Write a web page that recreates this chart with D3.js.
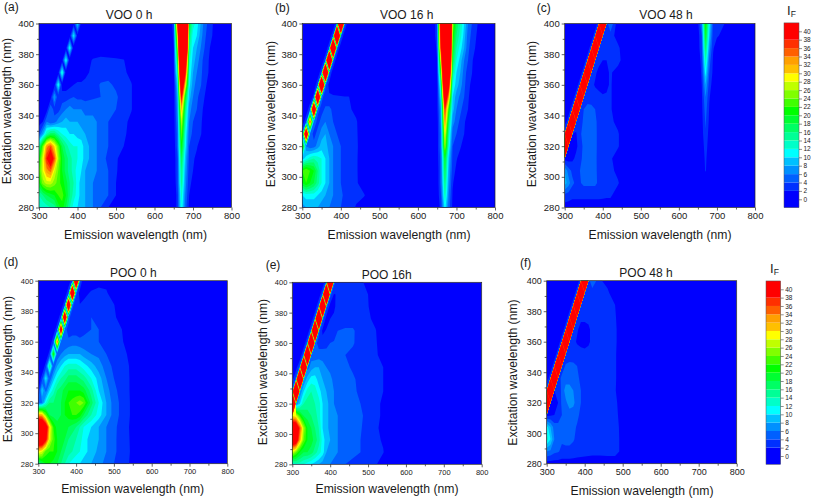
<!DOCTYPE html>
<html><head><meta charset="utf-8">
<script src="https://cdn.jsdelivr.net/npm/d3@7/dist/d3.min.js"></script>
<style>html,body{margin:0;background:#fff}svg{display:block}text{font-family:"Liberation Sans",Arial,sans-serif;fill:#1a1a1a}</style>
</head><body><svg id="c" width="813" height="500"></svg>
<script>
// Axes of the measured grid
const excitation = [280,288,296,304,312,320,328,336,344,352,360,368,376,384,392,400];
const emissionLeft = [300,310,320,330,340,350,360,370,380,390,400,410,420,440,460,480,500,520,540,560];
const emissionRight = [640,650,660,670,680,690,700,710,720,730,740,750,760,800];
const levels = [2,4,6,8,10,12,14,16,18,20,22,24,26,28,30,32,34,36,38];
const bandColors = ["#0000ff","#0030ff","#0060ff","#0090ff","#00c0ff","#00ffff","#00ffc8","#00ff96","#00ff64","#00ff32","#00ff00","#40ff00","#80ff00","#c0ff00","#ffff00","#ffc000","#ffa000","#ff6000","#ff3000","#ff0000"];
const barLabels = [0,2,4,6,8,10,12,14,16,18,20,22,24,26,28,30,32,34,36,38,40];
const xTicks = [300,400,500,600,700,800];
const yTicks = [280,300,320,340,360,380,400];

// Fluorescence intensity, one row per excitation wavelength (missing trailing cells are 0)
const voo0Left = [
[12,12,13,14,15,19,21,18,14,11,10,9,8,6,4,2,1],
[14,16,18,19,20,22,23,20,16,13,11,9,8,6,5,4,2,1],
[20,25,27,27,25,23,21,19,16,14,11,9,8,6,5,4,2,1],
[22,28,33,35,28,24,20,17,15,13,11,10,8,7,5,4,2.2,1],
[20,28,38,44,36,26,20,17,15,13,12,11,9,7,5,3.5,2.3,1],
[15,24,33,36,30,24,18,15,13,12,12,11,9,7,5,4,3,2,.5],
[4,8,14,17,17,14,12,11,10,10,9,9,8,7,5,4,3,2.5,1],
[1,2,6,4,5,7,8,9,8,8,8,7,7,7,5,4,3.5,2.5,1.5],
[0,1,1,6,3,3,5,6,7,6,6,6,5,5,5,5,4,2.5,2.1,.5],
[0,0,0,1,8,2,3,3,3.5,4,3.5,3.5,3.5,3.8,4,4.5,4.5,2.5,2.1,.5],
[0,0,0,0,1,12,1,1,1.5,2,2.3,2.3,2.5,3,4.2,4.5,3.5,2.5,2.1,.5],
[0,0,0,0,0,1,13,.5,.5,.5,1,1,1.5,2.5,3,3,2.6,2.3,1.5],
[0,0,0,0,0,0,1,12,0,0,0,0,1,2.2,2.4,2.3,2.2,2.1,.5],
[0,0,0,0,0,0,0,1,12,0,0,0,0,.5,1,1,1,.5],
[0,0,0,0,0,0,0,0,1,11,1],
[0,0,0,0,0,0,0,0,0,1,10,1]];
const voo0Right = [
[0,0,3,12,5,1.5,.5],[0,0,3,13,6,2,.5],[0,0,4,15,7,2.5,1.5],[0,.5,4,16,8,3,2,1],
[0,.5,4,18,9,3.5,2.3,1.5,.5],[0,.5,5,21,11,4,3,2.2,1],[0,1,5,24,12,5,3.5,2.8,2.2,.8],[0,1,6,27,14,6,4,3.2,2.4,1],
[0,1,7,32,16,7,5,4,2.6,1.5,.5],[0,1,8,40,20,9,6,4.5,3,2,1],[.5,1,10,50,30,11,7,5,4.2,2.5,1.5],[.5,1.5,14,60,40,12,8,6,4.6,2.8,2,.5],
[.5,2,18,70,50,13,9,7,5,3,2.1,1],[.5,2,24,80,70,15,10,8,6,4,2.3,1.5,.5],[.5,2.5,30,90,80,17,11,10,7,4.5,3,2,1],[.5,3,40,100,90,20,13,11,8,5,3.5,2.2,1]];

const voo16Left = [
[7,8,8,8,8,7,6,6,5,5,4,3,3,1.8,.5],
[10,11,11,11,10,9,8,7,6,5,4.5,3.5,3,2.5,2.2,.5],
[20,22,20,18,15,12,10,8,6,5,4,3.5,3,2.3,.8],
[22,24,22,20,16,12,10,8,6,5,4,3.5,3,2.3,.5],
[9,11,13,14,13,12,10,8,6,5,4,3.5,3,2.3,.5],
[25,6,4.5,5,7,9,9,7,6,5,4,3.5,3,2.4,.5],
[6,60,6,3,5,7,8,6,5,4,3.5,3,3,2.3,.5],
[0,4,38,6,3,5,6,5,4,3.5,3,3,2.6,2.2,.5],
[0,0,4,70,5,3,4.5,4.5,3.5,3,2.6,2.5,2.3,1.5],
[0,0,0,3,80,5,2.5,2.5,2.4,2.3,2.2,2.1,2.1,.8],
[0,0,0,0,4,100,5,1],
[0,0,0,0,0,4,110,5],
[0,0,0,0,0,0,4,120,5],
[0,0,0,0,0,0,0,4,120,5],
[0,0,0,0,0,0,0,0,4,130,5],
[0,0,0,0,0,0,0,0,0,4,130,5]];
const voo16Right = [
[0,0,3,11,5,1.5,.5],[0,.5,4,14,6,1.8],[0,.5,5,16,7,2.2,1],[0,.5,5,18,8,3,1.5],
[0,1,5,20,9,3.5,2.2,1],[0,1,6,26,12,4,3,2.3,.8],[0,1,6,29,14,5,4,3,2,.5],[0,1,7,34,17,7,5,3.5,2.3,1],
[0,1.5,8,38,22,9,6,4.5,3,2,.5],[0,1.5,11,48,32,10,7,5.5,4,2.3,1],[0,1.5,15,60,42,12,9,7,4.5,2.6,1.5],[.5,2,22,70,55,15,10,8,5,3,2.1,.5],
[.5,2,30,80,65,18,12,9,6,4,2.3,1],[.5,2.5,40,90,75,20,14,11,8,4.5,3,1.8,.5],[1,3,45,100,85,22,16,13,9,5,3.5,2.2,1],[1,3,50,100,90,25,18,14,10,6,4,2.5,1.5]];

const voo48Left = [
[1,1,1,1,1,1,1,1,1,1,1,1,1,.5],
[3.5,3,2.5,2.5,2.5,2.5,2.5,2.5,2.5,2.5,2.4,2.3,2.3,1],
[9,7,4.5,3.5,3.8,4.5,4.5,4.5,4.5,3.5,3,2.8,2.5,2.2,.5],
[8,5,3.5,3.5,4,4.6,4.8,4.8,4.5,3.3,3,2.8,2.5,1.5],
[1,1,1.5,2.5,3.5,4.5,5,5,4.5,3.2,2.8,2.6,2.3,1],
[800,1.5,1,1.5,3,4.5,5,5,4.6,3.2,2.8,2.6,2.5,2.2,.5],
[5,800,2,1.8,3.5,5,5.5,5.5,4.6,3.2,2.8,2.6,2.5,2.2,.5],
[1,3,800,3,2.5,4.6,5.5,5,4.5,3.2,2.8,2.6,2.4,1.5],
[0,1,3,800,3,4,4.8,4.6,4,3,2.6,2.5,2.3,.5],
[0,0,1,3,800,3,3,3,2.8,2.5,2.2,2.3,2.3,.5],
[0,0,0,1,3,800,3,2.5,1.8,1.5,1.3,1.5,2.3,.5],
[0,0,0,0,1,3,800,3,2.3,1.5,1.5,1.5,2.3,1],
[0,0,0,0,0,1,3,800,3,2.5,2,2,2.6,2.8,.5],
[0,0,0,0,0,0,1,3,800,3,2.6,2.2,2.5,2.5,.2],
[0,0,0,0,0,0,0,1,3,800,3,2.8,3,1],
[0,0,0,0,0,0,0,0,1,3,800,3,6,.5]];
const voo48Right = [
[0],[0],[0],[0,0,.5,2.2,.5],
[0,0,.5,2.5,.5],[0,0,.7,3,.8],[0,0,1,3.8,1],[0,0,1.2,4.3,1.5,.5],
[0,0,1.4,5,1.8,.5],[0,0,1.6,6,2.2,.7],[0,0,2,8,3,1],[0,.5,2.3,11,4,1.5],
[0,.5,2.8,14,5,1.7,.5],[0,1,3.5,17,7,2.2,1],[0,1,4,20,9,3,2.2,1.8,.5],[0,1.5,6,22,11,3.5,2.8,2.4,2,.5]];

const poo0Left = [
[15,18,20,20,19,18,16,14,12,11,10,10,9,8,7,5,4,3,2,.8],
[30,28,23,22,22,20,18,16,15,14,13,12,11,9,7.5,6,4.5,3,2.2,.5],
[48,48,40,28,23,20,19,18,16,15,14,13,11,9,8,6,4.5,3,2.1,.5],
[50,50,44,30,22,19,19,19,18,17,16,14,12,10,8,6,4.5,3.2,2,.5],
[33,32,24,18,17,17,18,20,21,22,22,21,18,14,11,8,5,3.5,2.2,.5],
[5,6,12,16,16,17,18,20,22,23,24,25,24,17,12,8,5,3.5,2.2,.5],
[1,10,5,10,13,16,17,19,20,20,20,20,19,15,10,7,4.5,3.3,2.1,.5],
[0,3,11,4,9,12,14,15,17,17,17,16,15,12,9,6,4,3,2.1,.3],
[0,0,3,16,4,8,10,12,13,13,13,12,11,9,7,5,3.5,2.8,2,.3],
[0,0,0,3,22,4,6,7,8,8,8,8,7,6,5.5,4,3,2.5,1.8],
[0,0,0,0,4,36,5,4,4.5,5,5,4.5,4.5,4.5,4,3.5,2.8,2.3,1],
[0,0,0,0,0,4,50,5,3,3,3,3,3.5,4,4,3,2.6,2.1,.5],
[0,0,0,0,0,0,4,60,5,2.3,2.5,2.6,3,4,3.5,3,2.4,1],
[0,0,0,0,0,0,0,4,65,5,2,2.1,2.4,2.6,2.6,2.4,2.1,.5],
[0,0,0,0,0,0,0,0,4,75,5,1,1.5,2.2,2.4,2.2,1],
[0,0,0,0,0,0,0,0,0,4,80,5,0,1,1.5,1.5,.3]];

const poo16Left = [
[12,13,13,12,11,10,9,8,7,6,6,5,5,4,3.5,3,2.6,2.2,1],
[28,24,20,18,18,17,15,13,11,8,7,7,6,5,4.5,4,3.2,2.4,2.1,.5],
[46,44,32,24,20,19,17,15,11,9,8,7,6,5,4.5,4,3.2,2.4,1.8,.3],
[48,46,36,26,20,18,16,14,10,9,7,6.5,6,5,4.5,4.2,3,2.3,1.5,.3],
[30,28,22,18,17,16,15,13,10,9,7,6,6,5,4.5,4.5,3,2.3,1.8,.3],
[200,6,10,14,15,15,14,13,10,9,7,6,5.5,4.8,4.2,4,3,2.3,1.8],
[6,200,6,10,13,14,13,11,9,8,7,6,5.5,4.8,4.2,3.8,3,2.4,2,.3],
[1,5,200,6,9,11,11,9,8,7.5,6.5,5.5,5,4.6,4.2,3.6,2.8,2.4,2,.3],
[0,1,5,200,5,7,8,8,7,6,5.5,5,4.5,4.3,3.8,3.2,2.8,2.3,2,.3],
[0,0,0,5,200,5,4.5,5,5,4.6,4.3,4.1,4,4,3.5,3,2.5,2.2,1.5],
[0,0,0,0,5,200,5,3,3,3.5,4,4.2,4.3,4.3,4.2,3.2,2.5,2.2,1],
[0,0,0,0,0,5,200,5,1.5,2.2,2.5,3,4,4.3,4.3,3,2.4,2.1,.5],
[0,0,0,0,0,0,5,200,5,1,2,2.2,2.4,3,3,2.6,2.3,1.5],
[0,0,0,0,0,0,0,5,200,5,1,1.8,2.4,2.4,2.4,2.4,2.1,.8],
[0,0,0,0,0,0,0,0,5,200,5,1.8,2.3,2.4,2.4,2.3,2,.3],
[0,0,0,0,0,0,0,0,0,5,200,5,2.2,2.2,2.4,2.3,1.5]];

const poo48Left = [
[1,1,1,1,1,1,1,1,1,1,1,1,1,1,1,1,.5],
[6,5.5,4.5,4.2,3.5,3.5,3.5,3.2,3,2.8,2.7,2.6,2.5,2.5,2.6,2.6,1.5],
[13,10,6,4.5,4.3,4.5,4.5,4.2,3.5,3,2.8,2.6,2.5,2.5,2.6,2.6,1.5],
[11,8,5,4.5,4.5,4.8,4.8,4.5,3.8,3.2,2.8,2.6,2.5,2.5,2.5,2.5,1.5],
[1,1.5,2,3,4,5,5,5,4.5,3.5,2.8,2.6,2.4,2.4,2.4,2.3,1.5],
[800,1.2,1,2,4.5,5.5,7,6.5,5,4,3,2.6,2.4,2.4,2.4,2.3,1.2],
[5,800,2,2.5,4.5,7,6.5,6,5,4,3,2.6,2.4,2.4,2.4,2.1,1],
[1,3,800,3,4.5,5,5.5,5,4.5,3.5,2.8,2.6,2.4,2.4,2.4,2.2,.8],
[0,1,3,800,3,4.2,4.5,4.4,4,3,2.7,2.5,2.4,2.4,2.4,2.2,.8],
[0,0,1,3,800,3,3,3,2.8,2.6,2.4,2.4,2.4,2.4,2.4,2.2,.8],
[0,0,0,1,3,800,3,2.5,1.8,1.5,1.5,1.8,2.3,2.4,2.4,2.3,.8],
[0,0,0,0,1,3,800,3,2.2,1.5,1.5,1.8,2.3,2.4,2.4,2.3,.8],
[0,0,0,0,0,1,3,800,3,2.3,2.3,2.3,2.4,2.4,2.4,2.2,.5],
[0,0,0,0,0,0,1,3,800,3,2.5,2.4,2.4,2.4,2.4,2,.3],
[0,0,0,0,0,0,0,1,3,800,3,3,2.6,2.4,2.3,1],
[0,0,0,0,0,0,0,0,1,3,800,3,6,2.2,1.5]];

// Layout
const panels = [
 {tag:"(a)",title:"VOO 0 h",left:voo0Left,right:voo0Right,x:[39,231.5],y:[207.5,23.5],tx:129,ty:18.5,lx:135.5,ly:239,yx:10.5,yy:111,gx:4,gy:11,fs:9.5},
 {tag:"(b)",title:"VOO 16 h",left:voo16Left,right:voo16Right,x:[302.3,495],y:[207.5,23.5],tx:406.7,ty:18.5,lx:399,ly:239,yx:274.7,yy:114,gx:275,gy:12,fs:9.5},
 {tag:"(c)",title:"VOO 48 h",left:voo48Left,right:voo48Right,x:[564.7,755],y:[207.5,23.5],tx:666,ty:18.5,lx:660,ly:239,yx:536,yy:114,gx:536.7,gy:12,fs:9.5},
 {tag:"(d)",title:"POO 0 h",left:poo0Left,right:[],x:[38.3,227.3],y:[463.7,280.7],tx:133.3,ty:277,lx:132.7,ly:493,yx:12.3,yy:369,gx:3.7,gy:266,fs:7.5},
 {tag:"(e)",title:"POO 16h",left:poo16Left,right:[],x:[292.3,481.7],y:[464.3,282.3],tx:386.7,ty:279,lx:387,ly:493,yx:267.3,yy:372,gx:265.7,gy:269,fs:7.5},
 {tag:"(f)",title:"POO 48 h",left:poo48Left,right:[],x:[546.7,736.7],y:[463.7,280.7],tx:646,ty:276.7,lx:642,ly:495,yx:517.3,yy:372.5,gx:520,gy:267,fs:9}
];
const svg = d3.select("#c");
const emission = emissionLeft.concat(emissionRight);
const pad = (r,n)=>Array.from({length:n},(_,i)=>r&&r[i]!==undefined?r[i]:0);
const emAt = d3.scaleLinear().domain(emission.map((_,i)=>i)).range(emission).clamp(true);
const exAt = d3.scaleLinear().domain(excitation.map((_,i)=>i)).range(excitation).clamp(true);
const contours = d3.contours().size([emission.length,excitation.length]).thresholds(levels);
const colour = d3.scaleThreshold().domain(levels).range(bandColors);

panels.forEach((p,k)=>{
  const X=d3.scaleLinear().domain([300,800]).range(p.x), Y=d3.scaleLinear().domain([280,400]).range(p.y);
  const g=svg.append("g");
  const id="clip"+k;
  g.append("clipPath").attr("id",id).append("rect").attr("x",p.x[0]).attr("y",p.y[1]).attr("width",p.x[1]-p.x[0]).attr("height",p.y[0]-p.y[1]);
  const plot=g.append("g").attr("clip-path",`url(#${id})`);
  plot.append("rect").attr("x",p.x[0]).attr("y",p.y[1]).attr("width",p.x[1]-p.x[0]).attr("height",p.y[0]-p.y[1]).attr("fill",bandColors[0]);
  const flat=[];
  excitation.forEach((_,i)=>{flat.push(...pad(p.left[i],emissionLeft.length),...pad(p.right[i],emissionRight.length));});
  const path=d3.geoPath(d3.geoTransform({point(u,v){this.stream.point(X(emAt(u-.5)),Y(exAt(v-.5)));}}));
  plot.selectAll("path").data(contours(flat)).join("path").attr("d",path).attr("fill",d=>colour(d.value));
  // axes
  g.append("g").attr("transform",`translate(0,${p.y[0]})`).call(d3.axisBottom(X).tickValues(xTicks).tickSize(3).tickPadding(2).tickFormat(d3.format("d")));
  g.append("g").attr("transform",`translate(0,${p.y[0]})`).call(d3.axisBottom(X).tickValues(xTicks.slice(1).map(v=>v-50)).tickSize(2).tickFormat(""));
  g.append("g").attr("transform",`translate(${p.x[0]},0)`).call(d3.axisLeft(Y).tickValues(yTicks).tickSize(3).tickPadding(2).tickFormat(d3.format("d")));
  g.append("g").attr("transform",`translate(${p.x[0]},0)`).call(d3.axisLeft(Y).tickValues(yTicks.slice(1).map(v=>v-10)).tickSize(2).tickFormat(""));
  g.selectAll(".domain").remove();
  g.selectAll(".tick line").attr("stroke","#222").attr("stroke-width",.7);
  g.selectAll(".tick text").attr("font-size",p.fs).attr("font-family",null).attr("fill","#1a1a1a");
  g.append("rect").attr("x",p.x[0]).attr("y",p.y[1]).attr("width",p.x[1]-p.x[0]).attr("height",p.y[0]-p.y[1]).attr("fill","none").attr("stroke","#222").attr("stroke-width",.7);
  g.append("text").attr("x",p.tx).attr("y",p.ty).attr("text-anchor","middle").attr("font-size",12).text(p.title);
  g.append("text").attr("x",p.lx).attr("y",p.ly).attr("text-anchor","middle").attr("font-size",12.2).text("Emission wavelength (nm)");
  g.append("text").attr("transform",`translate(${p.yx},${p.yy}) rotate(-90)`).attr("text-anchor","middle").attr("font-size",12.2).text("Excitation wavelength (nm)");
  g.append("text").attr("x",p.gx).attr("y",p.gy).attr("font-size",12).text(p.tag);
});

// Colour bars
[{x:784,w:15,top:31.3,zero:199.3,ix:787,iy:14.5},{x:766,w:14.7,top:289.3,zero:456,ix:770,iy:272.7}].forEach(b=>{
  const g=svg.append("g");
  const Y=d3.scaleLinear().domain([0,40]).range([b.zero,b.top]);
  bandColors.forEach((c,i)=>{
    const lo=i===0?-2:levels[i-1], hi=i===levels.length?42:levels[i];
    g.append("rect").attr("x",b.x).attr("width",b.w).attr("y",Y(hi)).attr("height",Y(lo)-Y(hi)).attr("fill",c);
  });
  g.append("rect").attr("x",b.x).attr("width",b.w).attr("y",Y(42)).attr("height",Y(-2)-Y(42)).attr("fill","none").attr("stroke","#555").attr("stroke-width",.5);
  const a=g.append("g").attr("transform",`translate(${b.x+b.w},0)`).call(d3.axisRight(Y).tickValues(barLabels).tickSize(3).tickPadding(1.5).tickFormat(d3.format("d")));
  a.select(".domain").remove();
  a.selectAll("line").attr("stroke","#444").attr("stroke-width",.6);
  a.selectAll("text").attr("font-size",6.5).attr("font-family",null).attr("fill","#333");
  const t=g.append("text").attr("x",b.ix).attr("y",b.iy).attr("font-size",13);
  t.append("tspan").text("I");
  t.append("tspan").attr("font-size",8.5).attr("dy",2).text("F");
});
</script></body></html>
